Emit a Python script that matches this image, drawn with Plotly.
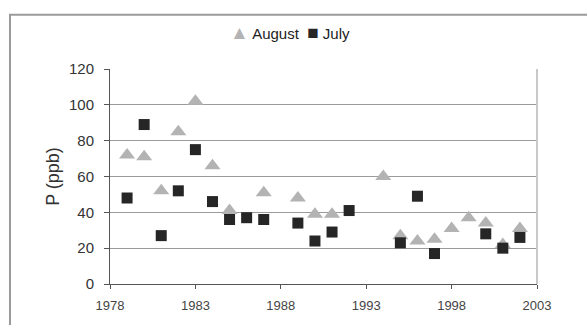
import plotly.graph_objects as go

# Phosphorus concentration by sampling year
aug_years = [1979, 1980, 1981, 1982, 1983, 1984, 1985, 1987, 1989, 1990, 1991,
             1994, 1995, 1996, 1997, 1998, 1999, 2000, 2001, 2002]
aug_p = [72, 71, 52, 85, 102, 66, 41, 51, 48, 39, 39,
         60, 27, 24, 25, 31, 37, 34, 22, 31]

jul_years = [1979, 1980, 1981, 1982, 1983, 1984, 1985, 1986, 1987, 1989, 1990,
             1991, 1992, 1995, 1996, 1997, 2000, 2001, 2002]
jul_p = [48, 89, 27, 52, 75, 46, 36, 37, 36, 34, 24,
         29, 41, 23, 49, 17, 28, 20, 26]

x_ticks = [1978, 1983, 1988, 1993, 1998, 2003]
y_ticks = [0, 20, 40, 60, 80, 100, 120]

AUG_COLOR = "#b3b3b3"
JUL_COLOR = "#262626"

fig = go.Figure()
fig.add_trace(go.Scatter(
    x=aug_years, y=aug_p, mode="markers", name="August",
    marker=dict(symbol="triangle-up", size=14, color=AUG_COLOR),
))
fig.add_trace(go.Scatter(
    x=jul_years, y=jul_p, mode="markers", name="July",
    marker=dict(symbol="square", size=11, color=JUL_COLOR),
))

font = "Liberation Sans, Arial, sans-serif"
fig.update_layout(
    width=587, height=325,
    margin=dict(l=110, r=50, t=69, b=34),
    paper_bgcolor="white", plot_bgcolor="white",
    font=dict(family=font, color="#333333", size=12),
    showlegend=False,
    xaxis=dict(range=[1978, 2003], tickvals=x_ticks, ticks="outside", ticklen=4,
               tickcolor="#555555", showgrid=False, zeroline=False,
               showline=True, linecolor="#555555", linewidth=1,
               ticklabelstandoff=5,
               tickfont=dict(size=13, color="#444444")),
    yaxis=dict(range=[0, 120], tickvals=y_ticks, ticks="outside", ticklen=5,
               tickcolor="#555555", showgrid=True, gridcolor="#9a9a9a", gridwidth=1,
               zeroline=False, showline=True, linecolor="#555555", linewidth=1,
               ticklabelstandoff=7,
               tickfont=dict(size=15, color="#333333"),
               title=dict(text="P (ppb)", font=dict(size=18, color="#333333"), standoff=4)),
)

# legend line above the plot: coloured symbol followed by series name
legend_text = (
    f"<span style='color:{AUG_COLOR};font-size:19px'>▲</span> August&nbsp;&nbsp;"
    f"<span style='color:{JUL_COLOR};font-size:19px'>■</span> July"
)
fig.add_annotation(text=legend_text, xref="paper", yref="paper",
                   x=(290 - 110) / 427, y=(291 - 31) / 222,
                   xanchor="center", yanchor="middle", showarrow=False,
                   font=dict(size=15, color="#222222", family=font))

# right edge of the plotting area
fig.add_shape(type="line", xref="x domain", yref="y domain", x0=1, x1=1, y0=0, y1=1,
              line=dict(color="#c8c8c8", width=2))
# outer chart frame
fig.add_shape(type="rect", xref="paper", yref="paper",
              x0=-100 / 427, x1=1.4, y0=-0.3, y1=(291 - 13) / 222,
              line=dict(color="#9a9a9a", width=2), layer="below")

fig.write_html("out.html")
